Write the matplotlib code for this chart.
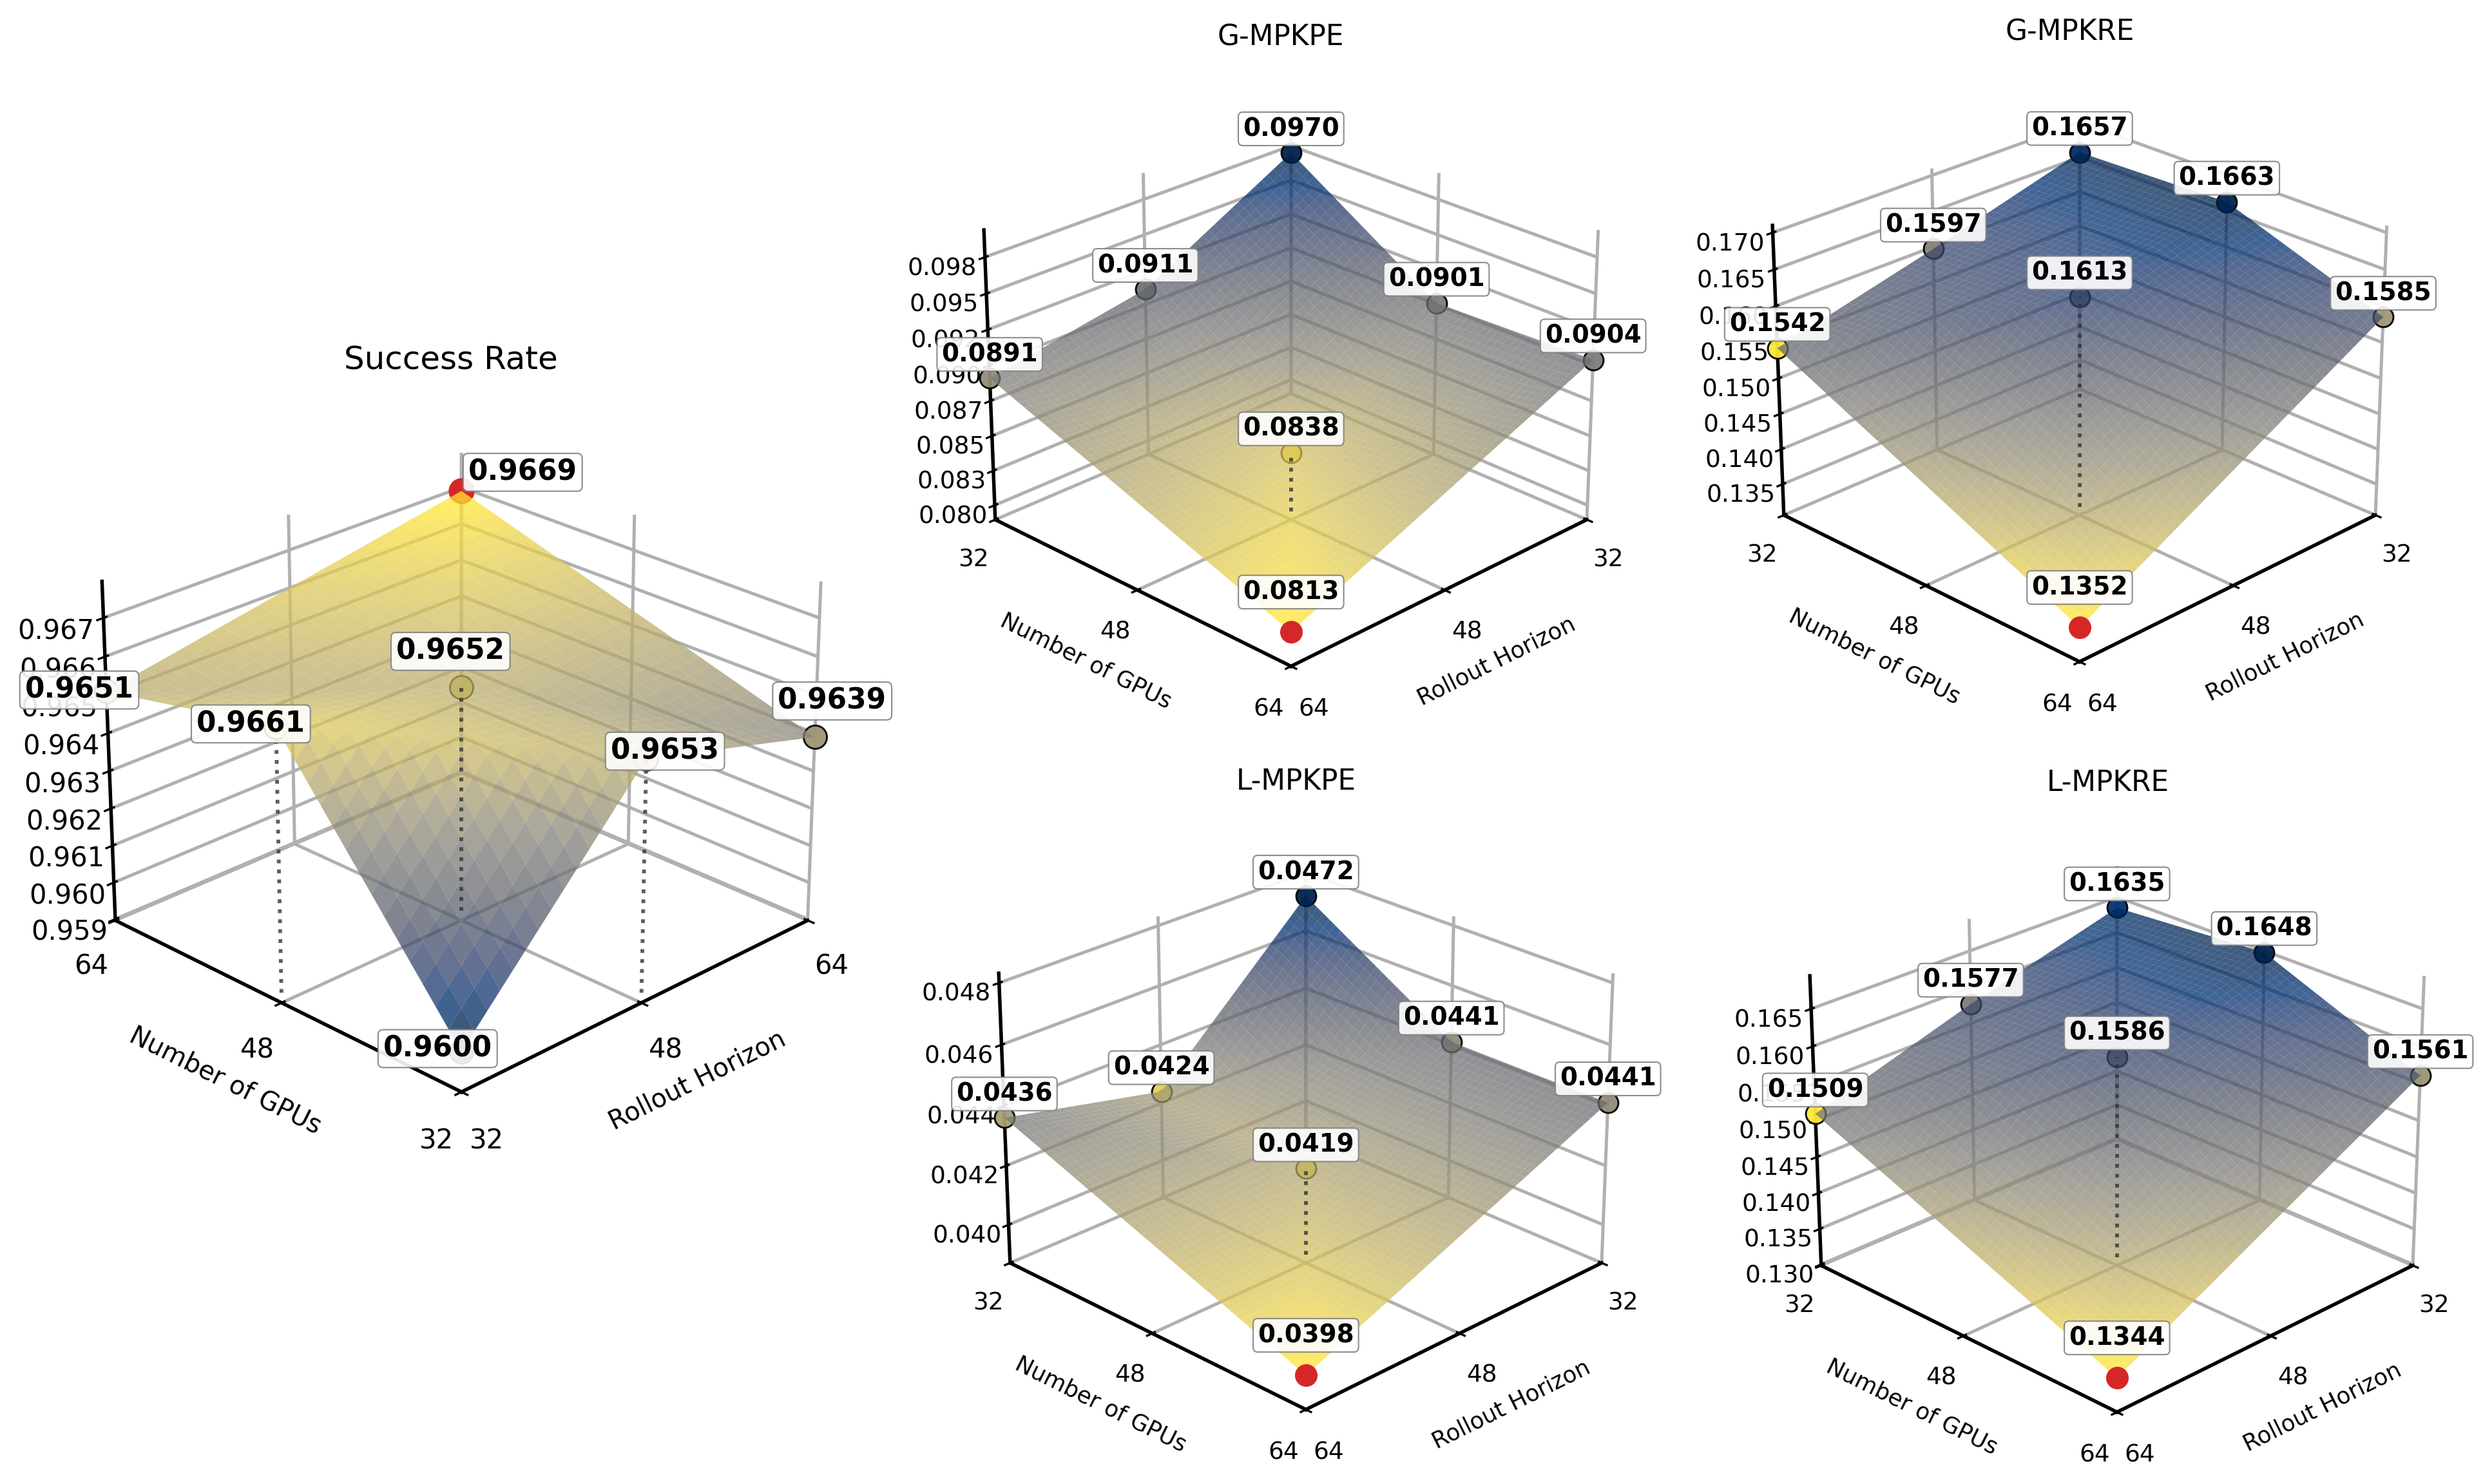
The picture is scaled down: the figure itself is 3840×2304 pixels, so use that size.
import numpy as np
import matplotlib
matplotlib.use('Agg')
import matplotlib.pyplot as plt
import matplotlib.tri as mtri
from matplotlib.ticker import FixedLocator, FormatStrFormatter
from mpl_toolkits.mplot3d import proj3d

# sweep points shared by all metrics
rollout = [32, 48, 32, 64, 32, 48, 64]
gpus = [32, 32, 48, 32, 64, 48, 64]
axis_ticks = [32, 48, 64]

success_rate = [0.9600, 0.9653, 0.9661, 0.9639, 0.9651, 0.9652, 0.9669]
g_mpkpe = [0.0970, 0.0911, 0.0901, 0.0891, 0.0904, 0.0838, 0.0813]
g_mpkre = [0.1657, 0.1597, 0.1663, 0.1542, 0.1585, 0.1613, 0.1352]
l_mpkpe = [0.0472, 0.0424, 0.0441, 0.0436, 0.0441, 0.0419, 0.0398]
l_mpkre = [0.1635, 0.1577, 0.1648, 0.1509, 0.1561, 0.1586, 0.1344]

success_ticks = [0.959, 0.960, 0.961, 0.962, 0.963, 0.964, 0.965, 0.966, 0.967]
g_mpkpe_ticks = [0.0800, 0.0825, 0.0850, 0.0875, 0.0900, 0.0925, 0.0950, 0.0975]
g_mpkre_ticks = [0.135, 0.140, 0.145, 0.150, 0.155, 0.160, 0.165, 0.170]
l_mpkpe_ticks = [0.040, 0.042, 0.044, 0.046, 0.048]
l_mpkre_ticks = [0.130, 0.135, 0.140, 0.145, 0.150, 0.155, 0.160, 0.165]


def draw_panel(fig, rect, title, values, zticks, cmap, azim, grid_n,
               best, offsets, dotted, font, title_xy):
    ax = fig.add_axes(rect, projection='3d')
    ax.patch.set_alpha(0)
    x = np.array(rollout, dtype=float)
    y = np.array(gpus, dtype=float)
    z = np.array(values)
    span = z.max() - z.min()
    zlim = (z.min() - 0.15 * span, z.max() + 0.15 * span)

    # linear surface through the measured points
    tri = mtri.Triangulation(x, y)
    interp = mtri.LinearTriInterpolator(tri, z)
    gx, gy = np.meshgrid(np.linspace(32, 64, grid_n), np.linspace(32, 64, grid_n))
    gz = np.ma.filled(interp(gx, gy), np.nan)
    ax.plot_surface(gx, gy, gz, cmap=cmap, alpha=0.75, linewidth=0,
                    antialiased=True, rstride=1, cstride=1)

    # marker colours leave out the best point, which is always red
    rest = np.delete(z, best)
    norm = plt.Normalize(rest.min(), rest.max())
    colors = plt.get_cmap(cmap)(norm(z))
    floor = zlim[0] + 0.03 * (zlim[1] - zlim[0])
    for i in dotted:
        ax.plot([x[i], x[i]], [y[i], y[i]], [floor, z[i]], ':', color='#333333',
                lw=1.4, alpha=0.8, zorder=20)
    for i in range(len(z)):
        if i == best:
            ax.scatter(x[i], y[i], z[i], s=font['mark'], color='#d62728', depthshade=False)
        else:
            ax.scatter(x[i], y[i], z[i], s=font['mark'], color=colors[i], edgecolors='black',
                       linewidths=0.7, depthshade=False, alpha=0.95)

    ax.set_xlim(32, 64)
    ax.set_ylim(32, 64)
    ax.set_zlim(*zlim)
    ax.set_xticks(axis_ticks)
    ax.set_yticks(axis_ticks)
    ax.zaxis.set_major_locator(FixedLocator(zticks))
    ax.zaxis.set_major_formatter(FormatStrFormatter('%.3f'))
    ax.tick_params(axis='both', labelsize=font['tick'], pad=font['pad'])
    ax.set_xlabel('Rollout Horizon', fontsize=font['label'], labelpad=font['labelpad'])
    ax.set_ylabel('Number of GPUs', fontsize=font['label'], labelpad=font['labelpad'])
    ax.view_init(elev=25, azim=azim)
    for axis in (ax.xaxis, ax.yaxis, ax.zaxis):
        axis.set_pane_color((1, 1, 1, 0))
        axis.pane.set_edgecolor((0.7, 0.7, 0.7, 1))
        axis.line.set_color('black')
        axis.line.set_linewidth(1.3)
        axis._axinfo['grid']['color'] = '#b0b0b0'
        axis._axinfo['grid']['linewidth'] = 1.2

    proj = ax.get_proj()
    for i in range(len(z)):
        px, py, _ = proj3d.proj_transform(x[i], y[i], z[i], proj)
        ax.annotate(f'{z[i]:.4f}', xy=(px, py), xytext=offsets[i], textcoords='offset pixels',
                    ha='center', va='center', fontsize=font['value'], fontweight='bold',
                    zorder=50, annotation_clip=False,
                    bbox=dict(boxstyle='round,pad=0.18', fc='white', ec='gray', lw=0.5, alpha=0.9))
    fig.text(title_xy[0] / 3840, 1 - title_xy[1] / 2304, title, fontsize=font['title'],
             ha='center', va='center')
    return ax


def main():
    fig = plt.figure(figsize=(12.8, 7.68), dpi=300)
    big = dict(tick=10, label=9.5, value=10.5, title=12, mark=75, pad=2, labelpad=2)
    small = dict(tick=9, label=8.5, value=9.3, title=10.5, mark=55, pad=1, labelpad=0)

    # panel rectangles in pixels: centre x, centre y, side
    def box(cx, cy, w):
        return [(cx - w / 2) / 3840, (2304 - cy - w / 2) / 2304, w / 3840, w / 2304]

    back = [(0, 37), (0, 37), (0, 37), (0, 37), (0, 37), (0, 37), (0, 62)]
    back_dots = [5]

    draw_panel(fig, box(700, 1187, 1203), 'Success Rate', success_rate, success_ticks,
               'cividis', -135, 30, 6,
               [(-37, 5), (29, 12), (-39, 5), (27, 56), (-42, 2), (-17, 56), (95, 29)],
               [1, 2, 5], big, (700, 560))
    draw_panel(fig, box(1990, 600, 1028), 'G-MPKPE', g_mpkpe, g_mpkpe_ticks,
               'cividis_r', 45, 50, 6, back, back_dots, small, (1988, 58))
    draw_panel(fig, box(3214, 593, 1028), 'G-MPKRE', g_mpkre, g_mpkre_ticks,
               'cividis_r', 45, 50, 6, back, back_dots, small, (3213, 50))
    draw_panel(fig, box(2013, 1754, 1028), 'L-MPKPE', l_mpkpe, l_mpkpe_ticks,
               'cividis_r', 45, 50, 6, back, back_dots, small, (2012, 1213))
    draw_panel(fig, box(3272, 1758, 1028), 'L-MPKRE', l_mpkre, l_mpkre_ticks,
               'cividis_r', 45, 50, 6, back, back_dots, small, (3272, 1215))

    fig.savefig('out.png', dpi=300)


if __name__ == '__main__':
    main()
